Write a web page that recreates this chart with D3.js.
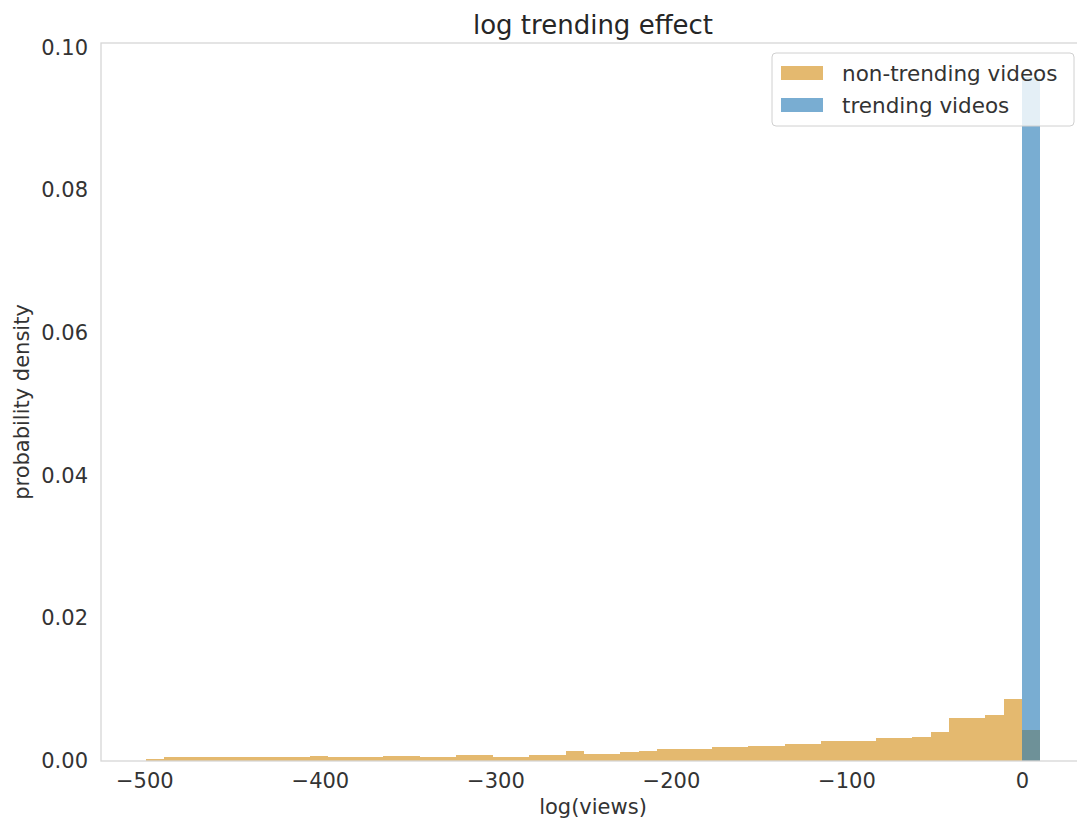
<!DOCTYPE html>
<html>
<head>
<meta charset="utf-8">
<script src="https://cdn.jsdelivr.net/npm/d3@7"></script>
<style>
  body { margin: 0; background: #fff; }
  svg { display: block; font-family: "DejaVu Sans", sans-serif; }
</style>
</head>
<body>
<div id="chart"></div>
<script>
// histogram bins: first edge and width, in log(views) units
var binStart = -499.2;
var binWidth = 10.4;

// probability density per bin
var nonTrending = [
  0.0003,
  0.0006, 0.0006, 0.0006, 0.0006, 0.0006, 0.0006, 0.0006, 0.0006,
  0.00075,
  0.0005, 0.0005, 0.0005,
  0.00075, 0.00075,
  0.0005, 0.0005,
  0.00084, 0.00084,
  0.0006, 0.0006,
  0.00084, 0.00084,
  0.0014, 0.00105, 0.001, 0.00126, 0.00145,
  0.00173, 0.00173, 0.00173,
  0.002, 0.002,
  0.0021, 0.0021,
  0.00233, 0.00233,
  0.0028, 0.0028, 0.0028,
  0.0032, 0.0032,
  0.0034, 0.004,
  0.006, 0.006, 0.0064,
  0.0087, 0.0043
];
var trending = nonTrending.map(function() { return 0; });
trending[trending.length - 1] = 0.0958;

var xTicks = [-500, -400, -300, -200, -100, 0];
var yTicks = [0, 0.02, 0.04, 0.06, 0.08, 0.10];

var seriesNames = ["non-trending videos", "trending videos"];
var seriesColors = ["#e4b96f", "rgba(31,119,180,0.6)"];

var width = 1077, height = 826;
var margin = { top: 43, right: -8, bottom: 65, left: 101 };

var svg = d3.select("#chart").append("svg")
  .attr("width", width)
  .attr("height", height);

var x = d3.scaleLinear()
  .domain([-524.7, 35.9])
  .range([margin.left, width - margin.right]);

var y = d3.scaleLinear()
  .domain([0, 0.1006])
  .range([height - margin.bottom, margin.top]);

function bins(values) {
  return values.map(function(v, i) {
    return { x0: binStart + i * binWidth, x1: binStart + (i + 1) * binWidth, v: v };
  });
}

// bars, orange first then translucent blue on top
[nonTrending, trending].forEach(function(series, k) {
  svg.append("g")
    .attr("fill", seriesColors[k])
    .attr("shape-rendering", "crispEdges")
    .selectAll("rect")
    .data(bins(series).filter(function(d) { return d.v > 0; }))
    .enter().append("rect")
    .attr("x", function(d) { return x(d.x0); })
    .attr("width", function(d) { return x(d.x1) - x(d.x0); })
    .attr("y", function(d) { return y(d.v); })
    .attr("height", function(d) { return y(0) - y(d.v); });
});

// frame
svg.append("rect")
  .attr("x", x.range()[0])
  .attr("y", y.range()[1])
  .attr("width", x.range()[1] - x.range()[0])
  .attr("height", y.range()[0] - y.range()[1])
  .attr("fill", "none")
  .attr("stroke", "#d6d6d6")
  .attr("stroke-width", 1.3);

var xAxis = svg.append("g")
  .attr("transform", "translate(0," + y(0) + ")")
  .call(d3.axisBottom(x).tickValues(xTicks).tickSize(0).tickPadding(12).tickFormat(d3.format("d")));
xAxis.select(".domain").remove();

var yAxis = svg.append("g")
  .attr("transform", "translate(" + x.range()[0] + ",0)")
  .call(d3.axisLeft(y).tickValues(yTicks).tickSize(0).tickPadding(13).tickFormat(d3.format(".2f")));
yAxis.select(".domain").remove();

svg.selectAll(".tick text")
  .attr("font-family", "DejaVu Sans")
  .attr("font-size", 21)
  .attr("fill", "#333");

svg.append("text")
  .attr("x", (x.range()[0] + x.range()[1]) / 2)
  .attr("y", 34)
  .attr("text-anchor", "middle")
  .attr("font-size", 26)
  .attr("fill", "#262626")
  .text("log trending effect");

svg.append("text")
  .attr("x", (x.range()[0] + x.range()[1]) / 2)
  .attr("y", 814)
  .attr("text-anchor", "middle")
  .attr("font-size", 21)
  .attr("fill", "#333")
  .text("log(views)");

svg.append("text")
  .attr("transform", "translate(29," + (y.range()[0] + y.range()[1]) / 2 + ") rotate(-90)")
  .attr("text-anchor", "middle")
  .attr("font-size", 21)
  .attr("fill", "#333")
  .text("probability density");

// legend
var legend = svg.append("g").attr("transform", "translate(772,53)");
legend.append("rect")
  .attr("width", 302)
  .attr("height", 73)
  .attr("rx", 4)
  .attr("fill", "rgba(255,255,255,0.8)")
  .attr("stroke", "#d0d0d0");

var item = legend.selectAll("g.item")
  .data(seriesNames)
  .enter().append("g")
  .attr("class", "item")
  .attr("transform", function(d, i) { return "translate(9," + (20 + i * 32) + ")"; });

item.append("rect")
  .attr("y", -7)
  .attr("width", 42)
  .attr("height", 14)
  .attr("fill", function(d, i) { return seriesColors[i]; });

item.append("text")
  .attr("x", 61)
  .attr("y", 7.5)
  .attr("font-size", 21.5)
  .attr("fill", "#333")
  .text(function(d) { return d; });
</script>
</body>
</html>
